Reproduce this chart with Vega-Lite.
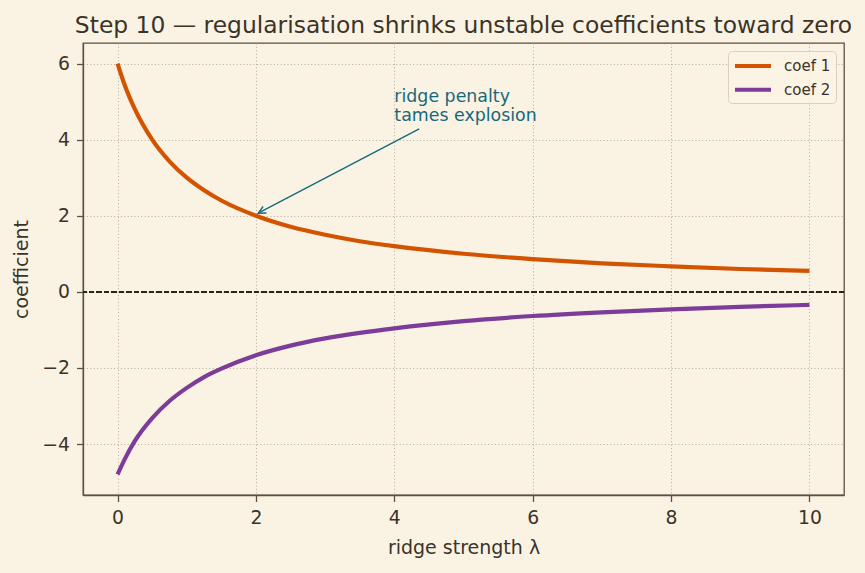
{
  "$schema": "https://vega.github.io/schema/vega-lite/v6.json",
  "width": 761,
  "height": 452,
  "autosize": {"type": "none"},
  "padding": {"left": 83, "top": 43, "right": 21, "bottom": 78},
  "background": "#faf3e4",
  "config": {
    "font": "DejaVu Sans",
    "view": {"stroke": "#5c5142", "strokeWidth": 1.3, "fill": "#faf3e4"},
    "axis": {
      "grid": true,
      "labelFont": "DejaVu Sans",
      "labelFontSize": 18.8,
      "labelColor": "#3b3329",
      "titleFont": "DejaVu Sans",
      "titleFontSize": 19,
      "titleFontWeight": "normal",
      "titleColor": "#3b3329",
      "tickColor": "#5c5142",
      "tickSize": 6.5,
      "tickWidth": 1.3,
      "domainColor": "#5c5142",
      "domainWidth": 1.3,
      "gridColor": "#aea38f",
      "gridDash": [1, 2.4],
      "gridWidth": 0.9,
      "labelPadding": 7
    },
    "title": {"font": "DejaVu Sans", "fontSize": 23.4, "fontWeight": "normal", "color": "#3b3329", "offset": 5, "anchor": "middle"}
  },
  "title": "Step 10 — regularisation shrinks unstable coefficients toward zero",
  "data": {
    "values": [
      {"lambda": 0, "coef": 6.0, "series": "coef 1"},
      {"lambda": 0.1, "coef": 5.45, "series": "coef 1"},
      {"lambda": 0.25, "coef": 4.8, "series": "coef 1"},
      {"lambda": 0.5, "coef": 4.0, "series": "coef 1"},
      {"lambda": 0.75, "coef": 3.43, "series": "coef 1"},
      {"lambda": 1, "coef": 3.0, "series": "coef 1"},
      {"lambda": 1.25, "coef": 2.67, "series": "coef 1"},
      {"lambda": 1.5, "coef": 2.4, "series": "coef 1"},
      {"lambda": 2, "coef": 2.0, "series": "coef 1"},
      {"lambda": 2.5, "coef": 1.71, "series": "coef 1"},
      {"lambda": 3, "coef": 1.5, "series": "coef 1"},
      {"lambda": 3.5, "coef": 1.33, "series": "coef 1"},
      {"lambda": 4, "coef": 1.2, "series": "coef 1"},
      {"lambda": 5, "coef": 1.0, "series": "coef 1"},
      {"lambda": 6, "coef": 0.86, "series": "coef 1"},
      {"lambda": 7, "coef": 0.75, "series": "coef 1"},
      {"lambda": 8, "coef": 0.67, "series": "coef 1"},
      {"lambda": 9, "coef": 0.6, "series": "coef 1"},
      {"lambda": 10, "coef": 0.55, "series": "coef 1"},
      {"lambda": 0, "coef": -4.8, "series": "coef 2"},
      {"lambda": 0.1, "coef": -4.41, "series": "coef 2"},
      {"lambda": 0.25, "coef": -3.92, "series": "coef 2"},
      {"lambda": 0.5, "coef": -3.32, "series": "coef 2"},
      {"lambda": 0.75, "coef": -2.87, "series": "coef 2"},
      {"lambda": 1, "coef": -2.525, "series": "coef 2"},
      {"lambda": 1.25, "coef": -2.24, "series": "coef 2"},
      {"lambda": 1.5, "coef": -2.02, "series": "coef 2"},
      {"lambda": 2, "coef": -1.667, "series": "coef 2"},
      {"lambda": 2.5, "coef": -1.414, "series": "coef 2"},
      {"lambda": 3, "coef": -1.225, "series": "coef 2"},
      {"lambda": 3.5, "coef": -1.08, "series": "coef 2"},
      {"lambda": 4, "coef": -0.96, "series": "coef 2"},
      {"lambda": 5, "coef": -0.77, "series": "coef 2"},
      {"lambda": 6, "coef": -0.636, "series": "coef 2"},
      {"lambda": 7, "coef": -0.5375, "series": "coef 2"},
      {"lambda": 8, "coef": -0.459, "series": "coef 2"},
      {"lambda": 9, "coef": -0.395, "series": "coef 2"},
      {"lambda": 10, "coef": -0.342, "series": "coef 2"}
    ]
  },
  "layer": [
    {
      "mark": {"type": "line", "strokeWidth": 4.2, "interpolate": "monotone", "strokeCap": "butt"},
      "encoding": {
        "x": {
          "field": "lambda", "type": "quantitative",
          "scale": {"domain": [-0.5, 10.5], "nice": false, "zero": false},
          "axis": {"values": [0, 2, 4, 6, 8, 10], "format": "d", "grid": true, "title": "ridge strength λ", "titlePadding": 11}
        },
        "y": {
          "field": "coef", "type": "quantitative",
          "scale": {"domain": [-5.34, 6.54], "nice": false, "zero": false},
          "axis": {"values": [-4, -2, 0, 2, 4, 6], "format": "d", "grid": true, "title": "coefficient", "titlePadding": 10}
        },
        "color": {
          "field": "series", "type": "nominal",
          "scale": {"domain": ["coef 1", "coef 2"], "range": ["#d35400", "#7d3c98"]},
          "legend": {
            "title": null,
            "orient": "top-right",
            "offset": 8,
            "symbolType": "M-1,0L3.5,0",
            "symbolSize": 256,
            "symbolStrokeWidth": 4,
            "labelFontSize": 15,
            "labelColor": "#3b3329",
            "labelOffset": 31,
            "rowPadding": 5.7,
            "padding": 5,
            "cornerRadius": 4,
            "strokeColor": "#d9d0bf",
            "fillColor": "rgba(250,243,228,0.85)"
          }
        }
      }
    },
    {
      "mark": {"type": "rule", "color": "#2b2520", "strokeWidth": 1.1, "strokeDash": [5, 2.5]},
      "encoding": {"y": {"datum": 0, "type": "quantitative"}}
    },
    {
      "data": {"values": [{"x": 4.36, "y": 4.28, "x2": 2.033, "y2": 2.066}]},
      "mark": {"type": "rule", "color": "#17697a", "strokeWidth": 1.4},
      "encoding": {
        "x": {"field": "x", "type": "quantitative"},
        "y": {"field": "y", "type": "quantitative"},
        "x2": {"field": "x2"},
        "y2": {"field": "y2"}
      }
    },
    {
      "data": {"values": [{"x": 2.033, "y": 2.066}]},
      "mark": {"type": "point", "shape": "M-1,-0.5L0,0L-1,0.5", "size": 220, "filled": false, "stroke": "#17697a", "strokeWidth": 1.4, "angle": 152.3, "opacity": 1},
      "encoding": {
        "x": {"field": "x", "type": "quantitative"},
        "y": {"field": "y", "type": "quantitative"}
      }
    },
    {
      "data": {"values": [{"x": 4, "y": 4.5, "label": "ridge penalty\ntames explosion"}]},
      "mark": {"type": "text", "align": "left", "baseline": "alphabetic", "fontSize": 17.4, "color": "#17697a", "lineBreak": "\n", "lineHeight": 18.3, "dy": -18.3},
      "encoding": {
        "x": {"field": "x", "type": "quantitative"},
        "y": {"field": "y", "type": "quantitative"},
        "text": {"field": "label"}
      }
    }
  ]
}
